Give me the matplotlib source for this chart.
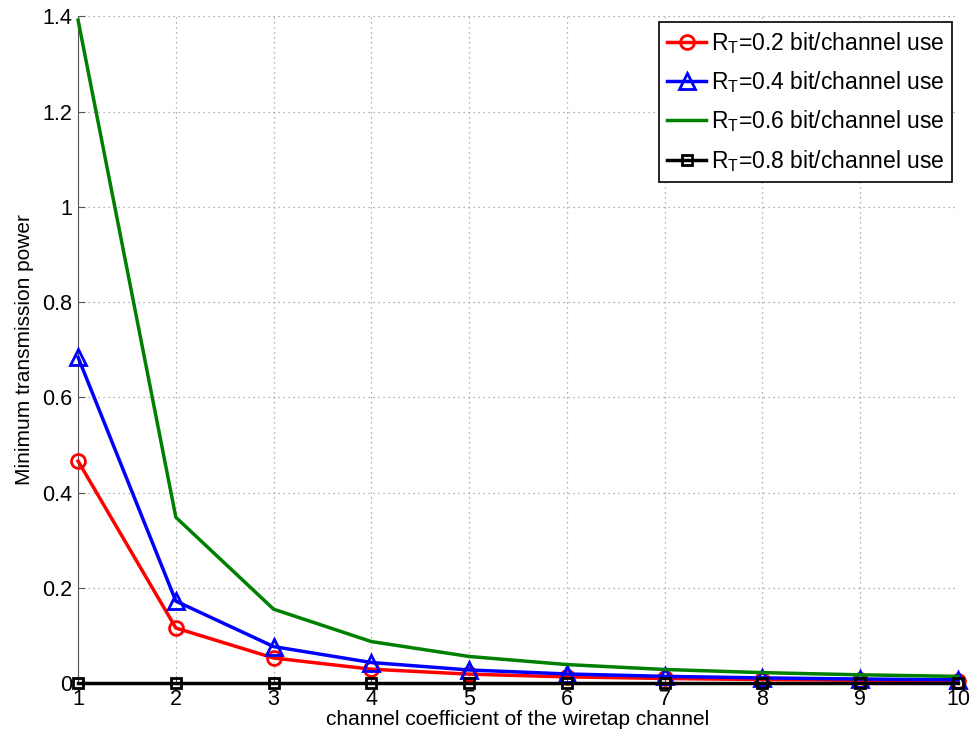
import matplotlib
matplotlib.use("Agg")
import matplotlib.pyplot as plt

plt.rcParams['font.family'] = ['Liberation Sans', 'DejaVu Sans']
plt.rcParams['mathtext.fontset'] = 'custom'
plt.rcParams['mathtext.rm'] = 'Liberation Sans'

coef = [1, 2, 3, 4, 5, 6, 7, 8, 9, 10]
power_r02 = [0.466, 0.1155, 0.0525, 0.029, 0.0186, 0.0129, 0.0095, 0.0073, 0.0058, 0.0047]
power_r04 = [0.684, 0.172, 0.0765, 0.043, 0.0274, 0.019, 0.014, 0.0107, 0.0084, 0.0068]
power_r06 = [1.392, 0.348, 0.155, 0.087, 0.0557, 0.0387, 0.0284, 0.0218, 0.0172, 0.0139]
power_r08 = [0, 0, 0, 0, 0, 0, 0, 0, 0, 0]
labels = ["R$_\\mathregular{T}$=0.2 bit/channel use",
          "R$_\\mathregular{T}$=0.4 bit/channel use",
          "R$_\\mathregular{T}$=0.6 bit/channel use",
          "R$_\\mathregular{T}$=0.8 bit/channel use"]
xticks = [1, 2, 3, 4, 5, 6, 7, 8, 9, 10]
yticks = [0, 0.2, 0.4, 0.6, 0.8, 1.0, 1.2, 1.4]
yticklabels = ["0", "0.2", "0.4", "0.6", "0.8", "1", "1.2", "1.4"]

fig = plt.figure(figsize=(9.76, 7.42), dpi=100)
ax = fig.add_axes([0.080, 0.0795, 0.9016, 0.8985])

ax.plot(coef, power_r02, color='red', lw=2.5, marker='o', ms=10, mfc='none', mew=2,
        label=labels[0], clip_on=False, zorder=3)
ax.plot(coef, power_r04, color='blue', lw=2.5, marker='^', ms=11, mfc='none', mew=2,
        label=labels[1], clip_on=False, zorder=3)
ax.plot(coef, power_r06, color='green', lw=2.5, label=labels[2], clip_on=False, zorder=3)
ax.plot(coef, power_r08, color='black', lw=2.5, marker='s', ms=7, mfc='none', mew=2,
        label=labels[3], clip_on=False, zorder=4)

ax.set_xlim(1, 10)
ax.set_ylim(0, 1.4)
ax.set_xticks(xticks)
ax.set_yticks(yticks)
ax.set_yticklabels(yticklabels)
ax.tick_params(labelsize=15.5, direction='in', length=5, color='#555555', pad=4)
ax.grid(True, linestyle=(0, (1, 3)), color='#999999', lw=0.9)
for side in ['top', 'right']:
    ax.spines[side].set_visible(False)
for side in ['left', 'bottom']:
    ax.spines[side].set_color('#555555')

ax.set_xlabel("channel coefficient of the wiretap channel", fontsize=15, labelpad=0)
ax.set_ylabel("Minimum transmission power", fontsize=15, labelpad=6)

leg = ax.legend(loc='upper right', fontsize=16.5, frameon=True, fancybox=False,
                edgecolor='black', framealpha=1, handlelength=1.7, handletextpad=0.2,
                borderpad=0.35, labelspacing=0.58, borderaxespad=0.25)
leg.get_frame().set_linewidth(1.2)
leg.set_zorder(5)

fig.savefig("out.png", dpi=100)
